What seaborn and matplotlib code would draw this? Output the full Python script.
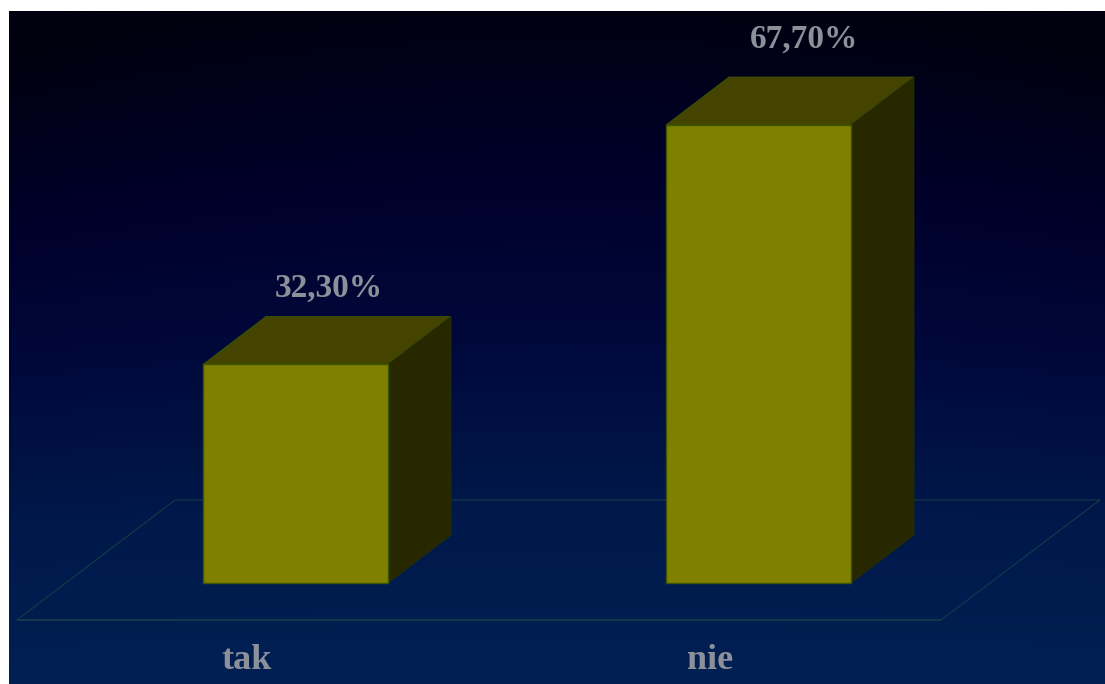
import numpy as np
import pandas as pd
import matplotlib
matplotlib.use("Agg")
import matplotlib.pyplot as plt
from matplotlib.patches import Polygon
import seaborn as sns

categories = ["tak", "nie"]
values = [32.3, 67.7]
value_labels = ["32,30%", "67,70%"]

FIG_W, FIG_H = 1105, 684
PANEL_LEFT, PANEL_TOP = 9, 11
BAR0_X, BAR_STEP = 295.5, 463.0   # pixel centre of the first bar, spacing between bars
BASE_Y, PX_PER_UNIT = 583.0, 6.765  # pixel row of value 0, pixels per percentage point
DEPTH_X, DEPTH_Y = 63.0, 48.0     # extrusion of the boxes, in pixels
LABEL_SHIFT_PX = [(1.5, 28.0), (14.5, 38.0)]  # value label offsets from the box top centre

FRONT = "#808000"
TOP = "#444400"
SIDE = "#282800"
EDGE = "#3a5600"
FLOOR = "#143a48"
TEXT = "#8b9099"

sns.set_theme(style="white", rc={"font.family": ["Liberation Serif", "DejaVu Serif"]})

fig = plt.figure(figsize=(FIG_W / 100, FIG_H / 100), dpi=100, facecolor="white")
ax = fig.add_axes([PANEL_LEFT / FIG_W, 0, 1 - PANEL_LEFT / FIG_W, 1 - PANEL_TOP / FIG_H])

frame = pd.DataFrame({"answer": categories, "share": values})
sns.barplot(data=frame, x="answer", y="share", width=185 / BAR_STEP, color=FRONT,
            saturation=1, edgecolor=EDGE, linewidth=1.0, ax=ax, zorder=4)

ax.set_xlabel("")
ax.set_ylabel("")
ax.set_xticks([])
ax.set_yticks([])
for spine in ax.spines.values():
    spine.set_visible(False)

# Navy backdrop: dark at the top corners, lifting towards the bottom edge
rows, cols = 340, 550
yy, xx = np.mgrid[0:1:rows * 1j, -1:1:cols * 1j]
level = np.clip(yy + 0.10 * (1 - xx ** 2) * (1 - yy) - 0.06 * (1 - yy), 0, 1)
stops = np.array([[0, 0, 14], [0, 0, 40], [0, 8, 58], [0, 24, 74], [0, 32, 84]]) / 255
pos = np.linspace(0, 1, len(stops))
rgb = np.dstack([np.interp(level, pos, stops[:, i]) for i in range(3)])
ax.imshow(rgb, extent=(0, 1, 0, 1), transform=ax.transAxes, aspect="auto",
          interpolation="bicubic", zorder=0)
ax.set_xlim((PANEL_LEFT - BAR0_X) / BAR_STEP, (FIG_W - BAR0_X) / BAR_STEP)
ax.set_ylim((BASE_Y - FIG_H) / PX_PER_UNIT, (BASE_Y - PANEL_TOP) / PX_PER_UNIT)

dx = DEPTH_X / BAR_STEP
dy = DEPTH_Y / PX_PER_UNIT

# Chart floor as a parallelogram behind the boxes
def floor_point(px, py):
    return ((px - BAR0_X) / BAR_STEP, (BASE_Y - py) / PX_PER_UNIT)

floor_far = [floor_point(175, 500), floor_point(1100, 500)]
floor_near = [floor_point(17, 620), floor_point(941, 620)]
ax.add_patch(Polygon([floor_near[0], floor_near[1], floor_far[1], floor_far[0]], closed=True,
                     facecolor="none", edgecolor=FLOOR, linewidth=0.8, zorder=1))
ax.plot([p[0] for p in floor_near], [p[1] for p in floor_near], color=FLOOR, lw=1.3, zorder=1)

# Extruded top and side of each box, built from the bar rectangles
px_to_pt = 72 / fig.dpi
for bar, label, (shift_x, shift_y) in zip(ax.patches, value_labels, LABEL_SHIFT_PX):
    x0, w, h = bar.get_x(), bar.get_width(), bar.get_height()
    x1 = x0 + w
    ax.add_patch(Polygon([(x0, h), (x1, h), (x1 + dx, h + dy), (x0 + dx, h + dy)], closed=True,
                         facecolor=TOP, edgecolor=EDGE, linewidth=0.6, zorder=3))
    ax.add_patch(Polygon([(x1, 0), (x1 + dx, dy), (x1 + dx, h + dy), (x1, h)], closed=True,
                         facecolor=SIDE, edgecolor="#20300a", linewidth=0.6, zorder=3))
    ax.annotate(label, (x0 + w / 2 + dx / 2, h + dy),
                xytext=(shift_x * px_to_pt, shift_y * px_to_pt), textcoords="offset points",
                ha="center", va="center", color=TEXT, fontsize=24, fontweight="bold", zorder=5)

# Category names sit left of their box centres, under the floor
for i, name in enumerate(categories):
    ax.annotate(name, (i, 0), xytext=(-35, -55.5), textcoords="offset points",
                ha="center", va="center", color=TEXT, fontsize=26, fontweight="bold", zorder=5)

fig.savefig("out.png", dpi=100, facecolor="white")
